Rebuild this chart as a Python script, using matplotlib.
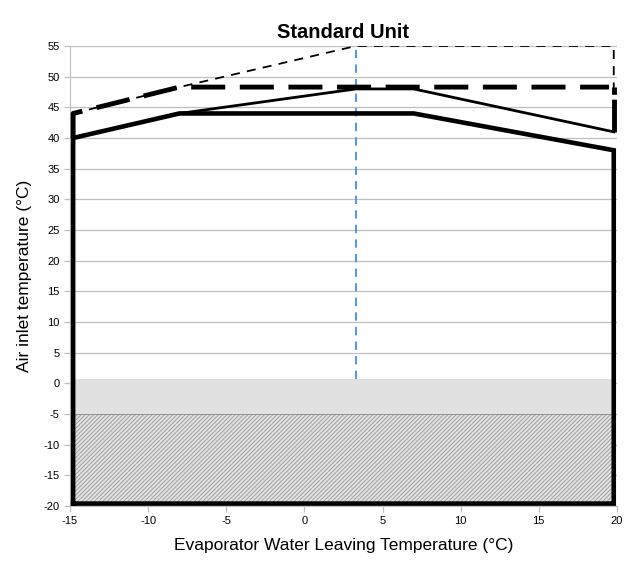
import matplotlib
matplotlib.use("Agg")
import matplotlib.pyplot as plt
from matplotlib.patches import Rectangle

# Envelope data
outer_x = [-14.8, -14.8, -8, 7, 19.8, 19.8, -14.8]
outer_y = [-19.6, 40, 44, 44, 38, -19.6, -19.6]

inner_x = [-8, 3.3, 7, 19.8]
inner_y = [44, 48, 48, 41]

thick_dash_x = [-14.8, -14.8, -8, 19.5]
thick_dash_y = [40, 44, 48.3, 48.3]
thick_dash_right_x = [19.8, 19.8]
thick_dash_right_y = [48.3, 41]

thin_dash_x = [-14.8, -8, 3.3, 19.8, 19.8]
thin_dash_y = [44, 48.3, 55, 55, 48]

blue_x = [3.3, 3.3]
blue_y = [0.7, 55]

band_x = [-14.7, 19.7]
gray_band_y = [-5, 0.7]
hatch_band_y = [-19.6, -5]

xticks = [-15, -10, -5, 0, 5, 10, 15, 20]
yticks = list(range(-20, 56, 5))

plt.rcParams['font.family'] = ['Liberation Sans', 'DejaVu Sans']
plt.rcParams['axes.unicode_minus'] = False
plt.rcParams['hatch.linewidth'] = 0.7
fig = plt.figure(figsize=(6.25, 5.65), dpi=100)
ax = fig.add_axes([0.112, 0.1044, 0.875, 0.8142])

ax.add_patch(Rectangle((band_x[0], gray_band_y[0]), band_x[1] - band_x[0],
                       gray_band_y[1] - gray_band_y[0], facecolor='#e1e1e1',
                       edgecolor='none', zorder=1))
ax.add_patch(Rectangle((band_x[0], hatch_band_y[0]), band_x[1] - band_x[0],
                       hatch_band_y[1] - hatch_band_y[0], facecolor='#e2e2e2',
                       edgecolor='#a0a0a0', hatch='////////', linewidth=0, zorder=1))
ax.plot([band_x[0], band_x[1]], [-5, -5], color='#888888', lw=0.6, zorder=2)

ax.plot(blue_x, blue_y, color='#5b9bd5', lw=1.5, dashes=(4, 3), zorder=3)
ax.plot(thin_dash_x, thin_dash_y, color='black', lw=1.3, dashes=(5, 4), zorder=4)
ax.plot(thick_dash_x, thick_dash_y, color='black', lw=3.5, dashes=(7, 3), zorder=4)
ax.plot(thick_dash_right_x, thick_dash_right_y, color='black', lw=3.5, dashes=(1.5, 1, 12, 1), zorder=4)
ax.plot(inner_x, inner_y, color='black', lw=2.0, zorder=5)
ax.plot(outer_x, outer_y, color='black', lw=3.3, zorder=5, solid_joinstyle='miter')

ax.set_xlim(-15, 20)
ax.set_ylim(-20, 55)
ax.set_xticks(xticks)
ax.set_yticks(yticks)
ax.yaxis.grid(True, color='#bfbfbf', lw=0.9)
ax.set_axisbelow(True)
for s in ['top', 'right']:
    ax.spines[s].set_visible(False)
for s in ['left', 'bottom']:
    ax.spines[s].set_color('#bfbfbf')
ax.tick_params(axis='both', labelsize=8, color='#bfbfbf', length=4, width=0.9)
ax.set_xlabel('Evaporator Water Leaving Temperature (°C)', fontsize=12.5, labelpad=8)
ax.set_ylabel('Air inlet temperature (°C)', fontsize=12.5, labelpad=8)
ax.set_title('Standard Unit', fontsize=14.5, fontweight='bold', pad=6)

fig.savefig('out.png', dpi=100)
